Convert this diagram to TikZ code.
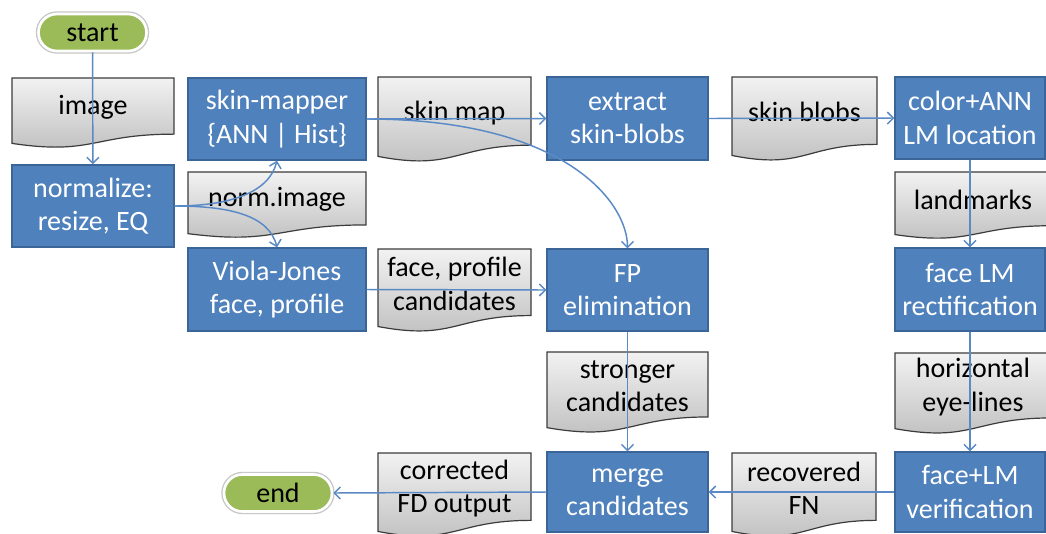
\documentclass[tikz,border=0pt]{standalone}
\usepackage{fontspec}
\setmainfont{Carlito}
\usetikzlibrary{arrows.meta,calc}

\definecolor{procfill}{HTML}{4F81BD}
\definecolor{procline}{HTML}{3A6596}
\definecolor{termfill}{HTML}{9BBB59}
\definecolor{doctop}{HTML}{F2F2F2}
\definecolor{docbot}{HTML}{BDBDBD}
\definecolor{docline}{HTML}{3C3C3C}
\definecolor{flow}{HTML}{5A8AC6}

\tikzset{
  txt/.style={font=\fontsize{21}{25}\selectfont, align=center, inner sep=0pt},
  proc/.style={txt, draw=procline, fill=procfill, line width=1pt, text=white},
  doctext/.style={txt, text=black},
  term/.style={txt, fill=termfill, draw=white, line width=2pt,
    rounded corners=13.8pt, minimum width=81pt, minimum height=27.75pt,
    preaction={draw=black!22, line width=4pt}},
  flowline/.style={draw=flow, line width=1.1pt,
    -{Straight Barb[length=4.5pt,width=9pt]}}
}

% process box: name, left, top, right, bottom, text (pixel units)
\newcommand\procbox[6]{%
  \node[proc, minimum width={(#4-#2)*0.75pt}, minimum height={(#5-#3)*0.75pt}]
    (#1) at ({(#2+#4)/2},{(#3+#5)/2}) {#6};}

% document shape: name, left, top, right, height, text
\newcommand\docbox[6]{%
  \shadedraw[top color=doctop, bottom color=docbot, draw=docline, line width=0.9pt]
    (#2,#3) -- (#4,#3) -- (#4,{#3+0.802*#5})
    .. controls ({(#2+#4)/2},{#3+0.802*#5}) and ({(#2+#4)/2},{#3+1.107*#5})
    .. (#2,{#3+0.934*#5}) -- cycle;
  \node[doctext] (#1) at ({(#2+#4)/2},{#3+0.42*#5}) {#6};}

\begin{document}
\begin{tikzpicture}[x=0.75pt,y=-0.75pt]
\clip (0,0) rectangle (1046,533);
\fill[white] (0,0) rectangle (1046,533);

% terminals
\node[term] (start) at (92.5,32.5) {start};
\node[term] (end) at (278,493) {end};

% data documents
\docbox{dimg}{12}{78}{174}{70}{image}
\docbox{dnorm}{188}{172}{366}{66}{norm.image}
\docbox{dskin}{378}{77}{531}{85}{skin map}
\docbox{dblobs}{732}{77}{877}{84}{skin blobs}
\docbox{dlm}{895}{172}{1051}{67}{landmarks}
\docbox{dcand}{378}{249}{531}{83}{face, profile\\candidates}
\docbox{dstrong}{547}{352}{708}{81}{stronger\\candidates}
\docbox{deye}{895}{353}{1051}{81}{horizontal\\eye-lines}
\docbox{dout}{378}{453}{531}{84}{corrected\\FD output}
\docbox{dfn}{732}{453}{876}{84}{recovered\\FN}

% processing steps
\procbox{norm}{12}{165}{174}{247}{normalize:\\resize, EQ}
\procbox{sm}{188}{78}{366}{160}{skin-mapper\\\{ANN | Hist\}}
\procbox{vj}{188}{248}{366}{331}{Viola-Jones\\face, profile}
\procbox{ex}{547}{77}{708}{160}{extract\\skin-blobs}
\procbox{fp}{547}{249}{708}{331}{FP\\elimination}
\procbox{col}{895}{77}{1045}{159}{color+ANN\\LM location}
\procbox{rect}{895}{248}{1045}{331}{face LM\\rectification}
\procbox{vf}{895}{452}{1045}{532}{face+LM\\verification}
\procbox{mg}{547}{452}{708}{532}{merge\\candidates}

% flow
\draw[flowline] (start) -- (norm);
\draw[flowline] (norm.east) .. controls +(55,0) and +(-8,32) .. (sm.south);
\draw[flowline] (norm.east) .. controls +(55,0) and +(-8,-32) .. (vj.north);
\draw[flowline] (sm.east) -- (ex.west);
\draw[flowline] (sm.east) .. controls +(200,0) and +(0,-45) .. (fp.north);
\draw[flowline] (ex.east) -- (col.west);
\draw[flowline] (col) -- (rect);
\draw[flowline] (vj.east) -- (fp.west);
\draw[flowline] (fp) -- (mg);
\draw[flowline] (rect) -- (vf);
\draw[flowline] (vf.west) -- (mg.east);
\draw[flowline] (mg.west) -- (end.east);
\end{tikzpicture}
\end{document}
